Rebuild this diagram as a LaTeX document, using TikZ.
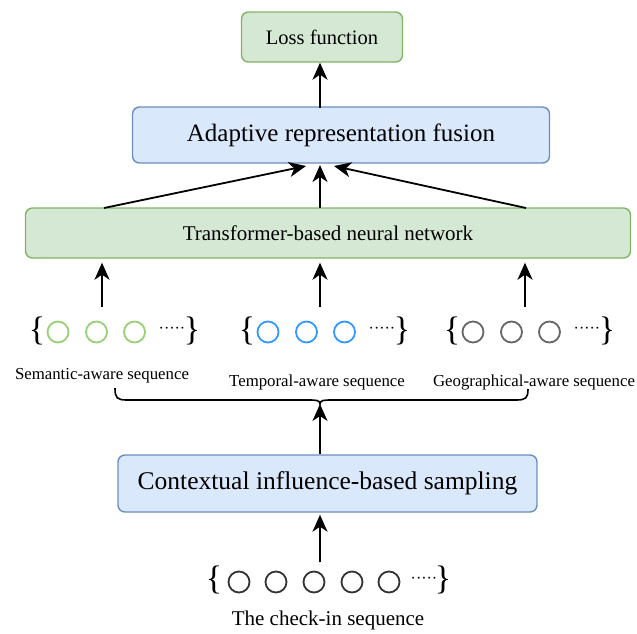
\documentclass[tikz,border=0pt]{standalone}
\usepackage{fontspec}
\setmainfont{Liberation Serif}
\usetikzlibrary{arrows.meta}
\definecolor{gfill}{HTML}{D5E8D4}
\definecolor{gline}{HTML}{82B366}
\definecolor{bfill}{HTML}{DAE8FC}
\definecolor{bline}{HTML}{6C8EBF}
\definecolor{cgreen}{HTML}{97D077}
\definecolor{cblue}{HTML}{3399FF}
\definecolor{cgray}{HTML}{666666}
\definecolor{cdark}{HTML}{333333}
\tikzset{
  gbox/.style={draw=gline, fill=gfill, line width=1.4pt, rounded corners=7pt, inner sep=0pt},
  bbox/.style={draw=bline, fill=bfill, line width=1.4pt, rounded corners=7pt, inner sep=0pt},
  arr/.style={line width=1.8pt, -{Stealth[length=17pt,width=15pt,inset=5pt]}},
  ring/.style={circle, draw, line width=1.8pt, minimum size=21pt, inner sep=0pt},
  brc/.style={font=\fontsize{34}{34}\selectfont, inner sep=0pt, text=black},
  dts/.style={font=\fontsize{16}{16}\selectfont, inner sep=0pt},
  lbl/.style={font=\fontsize{16.8}{18}\selectfont, inner sep=0pt},
}
\begin{document}
\begin{tikzpicture}[x=1pt,y=-1pt]
\useasboundingbox (0,0) rectangle (637,633);
% boxes
\node[gbox, minimum width=161pt, minimum height=50pt, font=\fontsize{20.5}{24}\selectfont] (loss) at (322,37) {Loss function};
\node[bbox, minimum width=417pt, minimum height=56pt, font=\fontsize{25}{28}\selectfont] (arf) at (341,135) {Adaptive representation fusion};
\node[gbox, minimum width=605pt, minimum height=50pt, font=\fontsize{21}{24}\selectfont] (tr) at (328,233) {Transformer-based neural network};
\node[bbox, minimum width=419pt, minimum height=57pt, font=\fontsize{25.5}{28}\selectfont] (cib) at (327.5,483.5) {Contextual influence-based sampling};
% arrows top
\coordinate (a0) at (320,108);
\draw[arr] (a0) -- (loss.south -| a0);
\coordinate (t1) at (104,208);
\coordinate (t2) at (320,208);
\coordinate (t3) at (526,208);
\coordinate (h1) at (306,166);
\coordinate (h2) at (320,165);
\coordinate (h3) at (334,166);
\draw[arr] (t1) -- (h1);
\draw[arr] (t2) -- (h2);
\draw[arr] (t3) -- (h3);
% sequences
\foreach \gx/\col/\nm in {0/cgreen/s, 210/cblue/t, 415/cgray/g}{
  \node[brc] (\nm b1) at ({\gx+37},331) {\{};
  \node[ring, draw=\col] (\nm c1) at ({\gx+58},332) {};
  \node[ring, draw=\col] (\nm c2) at ({\gx+96.5},332) {};
  \node[ring, draw=\col] (\nm c3) at ({\gx+134.5},332) {};
  \node[dts] (\nm d) at ({\gx+172},330) {·····};
  \node[brc] (\nm b2) at ({\gx+192},331) {\}};
}
\coordinate (u1) at (102,307);
\coordinate (u2) at (320,307);
\coordinate (u3) at (525,307);
\draw[arr, shorten >=4pt] (u1) -- (tr.south -| u1);
\draw[arr, shorten >=4pt] (u2) -- (tr.south -| u2);
\draw[arr, shorten >=4pt] (u3) -- (tr.south -| u3);
% labels
\node[lbl] (ls) at (102,376) {Semantic-aware sequence};
\node[lbl] (lt) at (317,382) {Temporal-aware sequence};
\node[lbl] (lg) at (534,382) {Geographical-aware sequence};
% big brace
\coordinate (bl) at (115,388);
\coordinate (br) at (528,389);
\coordinate (bm) at (320,404);
\draw[line width=1.6pt] (bl) .. controls (115,398) and (117,400) .. (127,400) -- (308,400)
  .. controls (316,400) and (320,400) .. (bm)
  .. controls (320,400) and (324,400) .. (332,400) -- (516,400)
  .. controls (526,400) and (528,398) .. (br);
\draw[arr] (cib.north -| bm) -- (bm);
% check-in sequence
\node[brc] (kb1) at (214,580) {\{};
\node[ring, draw=cdark] (k1) at (239,582) {};
\node[ring, draw=cdark] (k2) at (276,582) {};
\node[ring, draw=cdark] (k3) at (314,582) {};
\node[ring, draw=cdark] (k4) at (352,582) {};
\node[ring, draw=cdark] (k5) at (389,582) {};
\node[dts] (kd) at (424,580) {·····};
\node[brc] (kb2) at (443,580) {\}};
\coordinate (k0) at (320,562);
\draw[arr, shorten >=2pt] (k0) -- (cib.south -| k0);
\node[font=\fontsize{21}{24}\selectfont, inner sep=0pt] (kl) at (328,620) {The check-in sequence};
\end{tikzpicture}
\end{document}
